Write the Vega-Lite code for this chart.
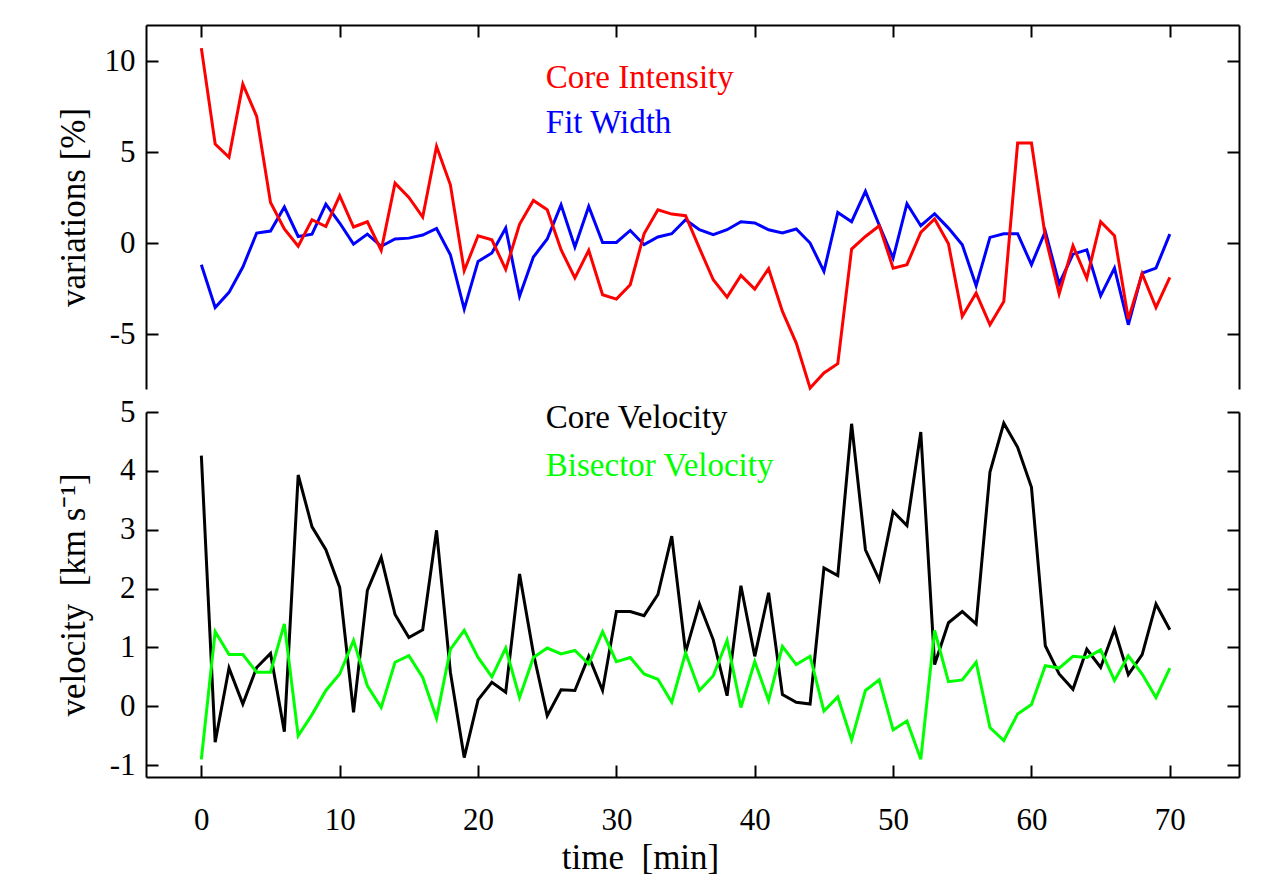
{
  "$schema": "https://vega.github.io/schema/vega-lite/v6.json",
  "autosize": "none",
  "padding": {"left": 146, "top": 25, "right": 1132, "bottom": 858},
  "background": "white",
  "bounds": "flush",
  "spacing": 23,
  "resolve": {"scale": {"color": "independent"}},
  "config": {
    "view": {"stroke": null},
    "font": "Liberation Serif",
    "axis": {
      "domainColor": "black", "domainWidth": 2,
      "tickColor": "black", "tickWidth": 2, "tickSize": -12,
      "labelFont": "Liberation Serif", "labelFontSize": 31, "labelColor": "black",
      "titleFont": "Liberation Serif", "titleFontSize": 35, "titleFontWeight": "normal", "titleColor": "black",
      "grid": false, "labelFlush": false, "labelOverlap": false
    }
  },
  "datasets": {
    "top": [
      {"t":0,"series":"Fit Width","v":-1.17},{"t":1,"series":"Fit Width","v":-3.52},{"t":2,"series":"Fit Width","v":-2.69},{"t":3,"series":"Fit Width","v":-1.30},{"t":4,"series":"Fit Width","v":0.57},{"t":5,"series":"Fit Width","v":0.68},{"t":6,"series":"Fit Width","v":2.00},{"t":7,"series":"Fit Width","v":0.38},{"t":8,"series":"Fit Width","v":0.51},{"t":9,"series":"Fit Width","v":2.16},
      {"t":10,"series":"Fit Width","v":1.12},{"t":11,"series":"Fit Width","v":-0.04},{"t":12,"series":"Fit Width","v":0.51},{"t":13,"series":"Fit Width","v":-0.16},{"t":14,"series":"Fit Width","v":0.24},{"t":15,"series":"Fit Width","v":0.29},{"t":16,"series":"Fit Width","v":0.46},{"t":17,"series":"Fit Width","v":0.82},{"t":18,"series":"Fit Width","v":-0.62},{"t":19,"series":"Fit Width","v":-3.61},
      {"t":20,"series":"Fit Width","v":-0.99},{"t":21,"series":"Fit Width","v":-0.53},{"t":22,"series":"Fit Width","v":0.84},{"t":23,"series":"Fit Width","v":-2.90},{"t":24,"series":"Fit Width","v":-0.75},{"t":25,"series":"Fit Width","v":0.24},{"t":26,"series":"Fit Width","v":2.12},{"t":27,"series":"Fit Width","v":-0.20},{"t":28,"series":"Fit Width","v":2.03},{"t":29,"series":"Fit Width","v":0.05},
      {"t":30,"series":"Fit Width","v":0.05},{"t":31,"series":"Fit Width","v":0.71},{"t":32,"series":"Fit Width","v":-0.07},{"t":33,"series":"Fit Width","v":0.35},{"t":34,"series":"Fit Width","v":0.53},{"t":35,"series":"Fit Width","v":1.30},{"t":36,"series":"Fit Width","v":0.75},{"t":37,"series":"Fit Width","v":0.48},{"t":38,"series":"Fit Width","v":0.75},{"t":39,"series":"Fit Width","v":1.19},
      {"t":40,"series":"Fit Width","v":1.12},{"t":41,"series":"Fit Width","v":0.75},{"t":42,"series":"Fit Width","v":0.57},{"t":43,"series":"Fit Width","v":0.79},{"t":44,"series":"Fit Width","v":0.02},{"t":45,"series":"Fit Width","v":-1.54},{"t":46,"series":"Fit Width","v":1.70},{"t":47,"series":"Fit Width","v":1.19},{"t":48,"series":"Fit Width","v":2.86},{"t":49,"series":"Fit Width","v":1.00},
      {"t":50,"series":"Fit Width","v":-0.81},{"t":51,"series":"Fit Width","v":2.18},{"t":52,"series":"Fit Width","v":0.97},{"t":53,"series":"Fit Width","v":1.63},{"t":54,"series":"Fit Width","v":0.84},{"t":55,"series":"Fit Width","v":-0.07},{"t":56,"series":"Fit Width","v":-2.33},{"t":57,"series":"Fit Width","v":0.33},{"t":58,"series":"Fit Width","v":0.53},{"t":59,"series":"Fit Width","v":0.53},
      {"t":60,"series":"Fit Width","v":-1.17},{"t":61,"series":"Fit Width","v":0.66},{"t":62,"series":"Fit Width","v":-2.23},{"t":63,"series":"Fit Width","v":-0.59},{"t":64,"series":"Fit Width","v":-0.35},{"t":65,"series":"Fit Width","v":-2.88},{"t":66,"series":"Fit Width","v":-1.36},{"t":67,"series":"Fit Width","v":-4.47},{"t":68,"series":"Fit Width","v":-1.63},{"t":69,"series":"Fit Width","v":-1.36},{"t":70,"series":"Fit Width","v":0.51},
      {"t":0,"series":"Core Intensity","v":10.73},{"t":1,"series":"Core Intensity","v":5.46},{"t":2,"series":"Core Intensity","v":4.73},{"t":3,"series":"Core Intensity","v":8.75},{"t":4,"series":"Core Intensity","v":6.98},{"t":5,"series":"Core Intensity","v":2.25},{"t":6,"series":"Core Intensity","v":0.79},{"t":7,"series":"Core Intensity","v":-0.16},{"t":8,"series":"Core Intensity","v":1.30},{"t":9,"series":"Core Intensity","v":0.93},
      {"t":10,"series":"Core Intensity","v":2.62},{"t":11,"series":"Core Intensity","v":0.90},{"t":12,"series":"Core Intensity","v":1.19},{"t":13,"series":"Core Intensity","v":-0.38},{"t":14,"series":"Core Intensity","v":3.31},{"t":15,"series":"Core Intensity","v":2.53},{"t":16,"series":"Core Intensity","v":1.45},{"t":17,"series":"Core Intensity","v":5.33},{"t":18,"series":"Core Intensity","v":3.22},{"t":19,"series":"Core Intensity","v":-1.50},
      {"t":20,"series":"Core Intensity","v":0.42},{"t":21,"series":"Core Intensity","v":0.20},{"t":22,"series":"Core Intensity","v":-1.43},{"t":23,"series":"Core Intensity","v":1.05},{"t":24,"series":"Core Intensity","v":2.36},{"t":25,"series":"Core Intensity","v":1.85},{"t":26,"series":"Core Intensity","v":-0.35},{"t":27,"series":"Core Intensity","v":-1.90},{"t":28,"series":"Core Intensity","v":-0.38},{"t":29,"series":"Core Intensity","v":-2.82},
      {"t":30,"series":"Core Intensity","v":-3.06},{"t":31,"series":"Core Intensity","v":-2.27},{"t":32,"series":"Core Intensity","v":0.53},{"t":33,"series":"Core Intensity","v":1.85},{"t":34,"series":"Core Intensity","v":1.61},{"t":35,"series":"Core Intensity","v":1.52},{"t":36,"series":"Core Intensity","v":-0.26},{"t":37,"series":"Core Intensity","v":-2.00},{"t":38,"series":"Core Intensity","v":-2.95},{"t":39,"series":"Core Intensity","v":-1.76},
      {"t":40,"series":"Core Intensity","v":-2.51},{"t":41,"series":"Core Intensity","v":-1.39},{"t":42,"series":"Core Intensity","v":-3.74},{"t":43,"series":"Core Intensity","v":-5.48},{"t":44,"series":"Core Intensity","v":-7.95},{"t":45,"series":"Core Intensity","v":-7.12},{"t":46,"series":"Core Intensity","v":-6.61},{"t":47,"series":"Core Intensity","v":-0.31},{"t":48,"series":"Core Intensity","v":0.38},{"t":49,"series":"Core Intensity","v":0.97},
      {"t":50,"series":"Core Intensity","v":-1.36},{"t":51,"series":"Core Intensity","v":-1.17},{"t":52,"series":"Core Intensity","v":0.60},{"t":53,"series":"Core Intensity","v":1.34},{"t":54,"series":"Core Intensity","v":-0.02},{"t":55,"series":"Core Intensity","v":-4.01},{"t":56,"series":"Core Intensity","v":-2.73},{"t":57,"series":"Core Intensity","v":-4.47},{"t":58,"series":"Core Intensity","v":-3.19},{"t":59,"series":"Core Intensity","v":5.51},
      {"t":60,"series":"Core Intensity","v":5.51},{"t":61,"series":"Core Intensity","v":0.38},{"t":62,"series":"Core Intensity","v":-2.77},{"t":63,"series":"Core Intensity","v":-0.13},{"t":64,"series":"Core Intensity","v":-1.92},{"t":65,"series":"Core Intensity","v":1.19},{"t":66,"series":"Core Intensity","v":0.42},{"t":67,"series":"Core Intensity","v":-4.16},{"t":68,"series":"Core Intensity","v":-1.67},{"t":69,"series":"Core Intensity","v":-3.52},{"t":70,"series":"Core Intensity","v":-1.87}
    ],
    "bottom": [
      {"t":0,"series":"Core Velocity","v":4.26},{"t":1,"series":"Core Velocity","v":-0.61},{"t":2,"series":"Core Velocity","v":0.65},{"t":3,"series":"Core Velocity","v":0.04},{"t":4,"series":"Core Velocity","v":0.66},{"t":5,"series":"Core Velocity","v":0.90},{"t":6,"series":"Core Velocity","v":-0.43},{"t":7,"series":"Core Velocity","v":3.93},{"t":8,"series":"Core Velocity","v":3.05},{"t":9,"series":"Core Velocity","v":2.66},
      {"t":10,"series":"Core Velocity","v":2.02},{"t":11,"series":"Core Velocity","v":-0.10},{"t":12,"series":"Core Velocity","v":1.97},{"t":13,"series":"Core Velocity","v":2.53},{"t":14,"series":"Core Velocity","v":1.56},{"t":15,"series":"Core Velocity","v":1.17},{"t":16,"series":"Core Velocity","v":1.30},{"t":17,"series":"Core Velocity","v":2.99},{"t":18,"series":"Core Velocity","v":0.58},{"t":19,"series":"Core Velocity","v":-0.87},
      {"t":20,"series":"Core Velocity","v":0.11},{"t":21,"series":"Core Velocity","v":0.41},{"t":22,"series":"Core Velocity","v":0.24},{"t":23,"series":"Core Velocity","v":2.25},{"t":24,"series":"Core Velocity","v":0.90},{"t":25,"series":"Core Velocity","v":-0.16},{"t":26,"series":"Core Velocity","v":0.28},{"t":27,"series":"Core Velocity","v":0.27},{"t":28,"series":"Core Velocity","v":0.85},{"t":29,"series":"Core Velocity","v":0.27},
      {"t":30,"series":"Core Velocity","v":1.61},{"t":31,"series":"Core Velocity","v":1.61},{"t":32,"series":"Core Velocity","v":1.54},{"t":33,"series":"Core Velocity","v":1.90},{"t":34,"series":"Core Velocity","v":2.89},{"t":35,"series":"Core Velocity","v":0.92},{"t":36,"series":"Core Velocity","v":1.74},{"t":37,"series":"Core Velocity","v":1.13},{"t":38,"series":"Core Velocity","v":0.18},{"t":39,"series":"Core Velocity","v":2.05},
      {"t":40,"series":"Core Velocity","v":0.85},{"t":41,"series":"Core Velocity","v":1.93},{"t":42,"series":"Core Velocity","v":0.20},{"t":43,"series":"Core Velocity","v":0.07},{"t":44,"series":"Core Velocity","v":0.04},{"t":45,"series":"Core Velocity","v":2.35},{"t":46,"series":"Core Velocity","v":2.22},{"t":47,"series":"Core Velocity","v":4.80},{"t":48,"series":"Core Velocity","v":2.66},{"t":49,"series":"Core Velocity","v":2.15},
      {"t":50,"series":"Core Velocity","v":3.31},{"t":51,"series":"Core Velocity","v":3.07},{"t":52,"series":"Core Velocity","v":4.66},{"t":53,"series":"Core Velocity","v":0.71},{"t":54,"series":"Core Velocity","v":1.42},{"t":55,"series":"Core Velocity","v":1.61},{"t":56,"series":"Core Velocity","v":1.40},{"t":57,"series":"Core Velocity","v":3.98},{"t":58,"series":"Core Velocity","v":4.81},{"t":59,"series":"Core Velocity","v":4.40},
      {"t":60,"series":"Core Velocity","v":3.72},{"t":61,"series":"Core Velocity","v":1.03},{"t":62,"series":"Core Velocity","v":0.55},{"t":63,"series":"Core Velocity","v":0.29},{"t":64,"series":"Core Velocity","v":0.97},{"t":65,"series":"Core Velocity","v":0.66},{"t":66,"series":"Core Velocity","v":1.31},{"t":67,"series":"Core Velocity","v":0.54},{"t":68,"series":"Core Velocity","v":0.88},{"t":69,"series":"Core Velocity","v":1.74},{"t":70,"series":"Core Velocity","v":1.30},
      {"t":0,"series":"Bisector Velocity","v":-0.90},{"t":1,"series":"Bisector Velocity","v":1.27},{"t":2,"series":"Bisector Velocity","v":0.88},{"t":3,"series":"Bisector Velocity","v":0.88},{"t":4,"series":"Bisector Velocity","v":0.58},{"t":5,"series":"Bisector Velocity","v":0.58},{"t":6,"series":"Bisector Velocity","v":1.40},{"t":7,"series":"Bisector Velocity","v":-0.50},{"t":8,"series":"Bisector Velocity","v":-0.14},{"t":9,"series":"Bisector Velocity","v":0.27},
      {"t":10,"series":"Bisector Velocity","v":0.55},{"t":11,"series":"Bisector Velocity","v":1.12},{"t":12,"series":"Bisector Velocity","v":0.35},{"t":13,"series":"Bisector Velocity","v":-0.02},{"t":14,"series":"Bisector Velocity","v":0.75},{"t":15,"series":"Bisector Velocity","v":0.86},{"t":16,"series":"Bisector Velocity","v":0.49},{"t":17,"series":"Bisector Velocity","v":-0.20},{"t":18,"series":"Bisector Velocity","v":0.97},{"t":19,"series":"Bisector Velocity","v":1.29},
      {"t":20,"series":"Bisector Velocity","v":0.83},{"t":21,"series":"Bisector Velocity","v":0.50},{"t":22,"series":"Bisector Velocity","v":0.99},{"t":23,"series":"Bisector Velocity","v":0.15},{"t":24,"series":"Bisector Velocity","v":0.83},{"t":25,"series":"Bisector Velocity","v":0.99},{"t":26,"series":"Bisector Velocity","v":0.89},{"t":27,"series":"Bisector Velocity","v":0.95},{"t":28,"series":"Bisector Velocity","v":0.72},{"t":29,"series":"Bisector Velocity","v":1.27},
      {"t":30,"series":"Bisector Velocity","v":0.76},{"t":31,"series":"Bisector Velocity","v":0.83},{"t":32,"series":"Bisector Velocity","v":0.55},{"t":33,"series":"Bisector Velocity","v":0.46},{"t":34,"series":"Bisector Velocity","v":0.07},{"t":35,"series":"Bisector Velocity","v":0.91},{"t":36,"series":"Bisector Velocity","v":0.27},{"t":37,"series":"Bisector Velocity","v":0.52},{"t":38,"series":"Bisector Velocity","v":1.12},{"t":39,"series":"Bisector Velocity","v":-0.02},
      {"t":40,"series":"Bisector Velocity","v":0.76},{"t":41,"series":"Bisector Velocity","v":0.10},{"t":42,"series":"Bisector Velocity","v":1.02},{"t":43,"series":"Bisector Velocity","v":0.71},{"t":44,"series":"Bisector Velocity","v":0.85},{"t":45,"series":"Bisector Velocity","v":-0.08},{"t":46,"series":"Bisector Velocity","v":0.16},{"t":47,"series":"Bisector Velocity","v":-0.57},{"t":48,"series":"Bisector Velocity","v":0.27},{"t":49,"series":"Bisector Velocity","v":0.45},
      {"t":50,"series":"Bisector Velocity","v":-0.40},{"t":51,"series":"Bisector Velocity","v":-0.25},{"t":52,"series":"Bisector Velocity","v":-0.90},{"t":53,"series":"Bisector Velocity","v":1.29},{"t":54,"series":"Bisector Velocity","v":0.42},{"t":55,"series":"Bisector Velocity","v":0.45},{"t":56,"series":"Bisector Velocity","v":0.75},{"t":57,"series":"Bisector Velocity","v":-0.36},{"t":58,"series":"Bisector Velocity","v":-0.58},{"t":59,"series":"Bisector Velocity","v":-0.13},
      {"t":60,"series":"Bisector Velocity","v":0.03},{"t":61,"series":"Bisector Velocity","v":0.69},{"t":62,"series":"Bisector Velocity","v":0.65},{"t":63,"series":"Bisector Velocity","v":0.85},{"t":64,"series":"Bisector Velocity","v":0.83},{"t":65,"series":"Bisector Velocity","v":0.96},{"t":66,"series":"Bisector Velocity","v":0.44},{"t":67,"series":"Bisector Velocity","v":0.86},{"t":68,"series":"Bisector Velocity","v":0.55},{"t":69,"series":"Bisector Velocity","v":0.15},{"t":70,"series":"Bisector Velocity","v":0.65}
    ],
    "topLabels": [
      {"t":24.9,"series":"Core Intensity","v":8.55},
      {"t":24.9,"series":"Fit Width","v":6.08}
    ],
    "bottomLabels": [
      {"t":24.9,"series":"Core Velocity","v":4.72},
      {"t":24.9,"series":"Bisector Velocity","v":3.92}
    ]
  },
  "vconcat": [
    {
      "width": 1093,
      "height": 364,
      "layer": [
        {
          "data": {"name": "top"},
          "mark": {"type": "line", "strokeWidth": 3, "strokeJoin": "miter"},
          "encoding": {
            "x": {"field": "t", "type": "quantitative",
                  "scale": {"domain": [-4, 75], "nice": false, "zero": false},
                  "axis": {"orient": "top", "labels": false, "values": [0,10,20,30,40,50,60,70], "title": null}},
            "y": {"field": "v", "type": "quantitative",
                  "scale": {"domain": [-8, 12], "nice": false, "zero": false},
                  "axis": {"orient": "left", "values": [-5,0,5,10], "title": "variations [%]", "labelPadding": 23,
                           "labelExpr": "'' + datum.value",
                           "titleX": -73, "titleBaseline": "middle", "titleAngle": -90}},
            "color": {"field": "series", "type": "nominal",
                      "scale": {"domain": ["Core Intensity", "Fit Width"], "range": ["#ff0000", "#0000ff"]},
                      "legend": null}
          }
        },
        {
          "data": {"name": "topLabels"},
          "mark": {"type": "text", "align": "left", "baseline": "alphabetic", "fontSize": 33, "font": "Liberation Serif"},
          "encoding": {
            "x": {"field": "t", "type": "quantitative",
                  "scale": {"domain": [-4, 75], "nice": false, "zero": false},
                  "axis": {"orient": "top", "labels": false, "values": [0,10,20,30,40,50,60,70], "title": null}},
            "y": {"field": "v", "type": "quantitative",
                  "scale": {"domain": [-8, 12], "nice": false, "zero": false},
                  "axis": {"orient": "right", "labels": false, "values": [-5,0,5,10], "title": null}},
            "text": {"field": "series"},
            "color": {"field": "series", "type": "nominal",
                      "scale": {"domain": ["Core Intensity", "Fit Width"], "range": ["#ff0000", "#0000ff"]},
                      "legend": null}
          }
        }
      ]
    },
    {
      "width": 1093,
      "height": 365,
      "layer": [
        {
          "data": {"name": "bottom"},
          "mark": {"type": "line", "strokeWidth": 3, "strokeJoin": "miter"},
          "encoding": {
            "x": {"field": "t", "type": "quantitative",
                  "scale": {"domain": [-4, 75], "nice": false, "zero": false},
                  "axis": {"orient": "bottom", "values": [0,10,20,30,40,50,60,70], "title": "time\u00a0 [min]", "labelPadding": 40,
                           "titleX": 494, "titleY": 80, "titleBaseline": "middle", "titleAnchor": "middle", "titleAlign": "center"}},
            "y": {"field": "v", "type": "quantitative",
                  "scale": {"domain": [-1.2, 5], "nice": false, "zero": false},
                  "axis": {"orient": "left", "values": [-1,0,1,2,3,4,5], "title": "velocity\u00a0 [km s⁻¹]", "labelPadding": 23,
                           "labelExpr": "'' + datum.value",
                           "titleX": -73, "titleBaseline": "middle", "titleAngle": -90}},
            "color": {"field": "series", "type": "nominal",
                      "scale": {"domain": ["Core Velocity", "Bisector Velocity"], "range": ["#000000", "#00ff00"]},
                      "legend": null}
          }
        },
        {
          "data": {"name": "bottomLabels"},
          "mark": {"type": "text", "align": "left", "baseline": "alphabetic", "fontSize": 33, "font": "Liberation Serif"},
          "encoding": {
            "x": {"field": "t", "type": "quantitative",
                  "scale": {"domain": [-4, 75], "nice": false, "zero": false},
                  "axis": {"orient": "bottom", "values": [0,10,20,30,40,50,60,70], "title": "time\u00a0 [min]", "labelPadding": 40,
                           "titleX": 494, "titleY": 80, "titleBaseline": "middle", "titleAnchor": "middle", "titleAlign": "center"}},
            "y": {"field": "v", "type": "quantitative",
                  "scale": {"domain": [-1.2, 5], "nice": false, "zero": false},
                  "axis": {"orient": "right", "labels": false, "values": [-1,0,1,2,3,4,5], "title": null}},
            "text": {"field": "series"},
            "color": {"field": "series", "type": "nominal",
                      "scale": {"domain": ["Core Velocity", "Bisector Velocity"], "range": ["#000000", "#00ff00"]},
                      "legend": null}
          }
        }
      ]
    }
  ]
}
